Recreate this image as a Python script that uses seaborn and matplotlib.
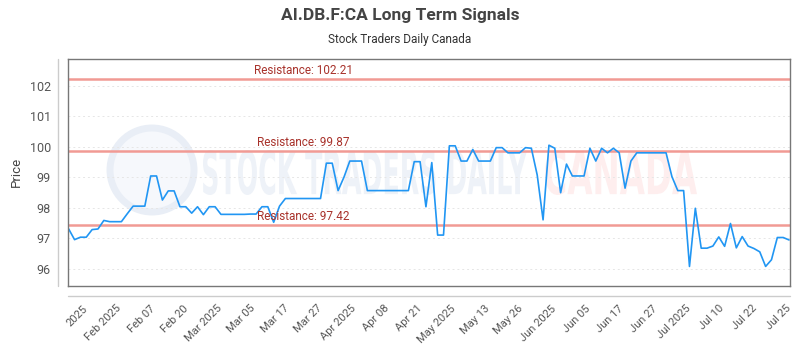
import matplotlib
matplotlib.use('Agg')
import numpy as np
import pandas as pd
import matplotlib.pyplot as plt
import seaborn as sns
from matplotlib.lines import Line2D
from matplotlib.patches import Ellipse, PathPatch
from matplotlib.textpath import TextPath
from matplotlib.font_manager import FontProperties
from matplotlib.transforms import Affine2D


TITLE = 'AI.DB.F:CA Long Term Signals'
SUBTITLE = 'Stock Traders Daily Canada'

# daily closes, one per trading session
prices = [
    97.30, 96.95, 97.03, 97.03, 97.28, 97.30, 97.58, 97.54, 97.54, 97.54,
    97.80, 98.05, 98.05, 98.05, 99.04, 99.04, 98.25, 98.55, 98.55, 98.03,
    98.03, 97.82, 98.03, 97.77, 98.03, 98.03, 97.78, 97.78, 97.78, 97.78,
    97.78, 97.79, 97.79, 98.03, 98.03, 97.52, 98.05, 98.30, 98.30, 98.30,
    98.30, 98.30, 98.30, 98.30, 99.46, 99.46, 98.56, 99.00, 99.53, 99.53,
    99.53, 98.56, 98.56, 98.56, 98.56, 98.56, 98.56, 98.56, 98.56, 99.51,
    99.51, 98.03, 99.48, 97.10, 97.10, 100.03, 100.03, 99.53, 99.53, 99.91,
    99.53, 99.53, 99.53, 99.97, 99.97, 99.80, 99.80, 99.80, 99.97, 99.95,
    99.07, 97.60, 100.05, 99.95, 98.49, 99.43, 99.04, 99.04, 99.04, 99.95,
    99.53, 99.95, 99.80, 99.95, 99.80, 98.64, 99.53, 99.80, 99.80, 99.80,
    99.80, 99.80, 99.80, 99.02, 98.56, 98.56, 96.07, 97.98, 96.67, 96.67,
    96.74, 97.04, 96.73, 97.48, 96.68, 97.05, 96.74, 96.66, 96.55, 96.07,
    96.29, 97.02, 97.02, 96.94,
]

tick_labels = ['2025', 'Feb 2025', 'Feb 07', 'Feb 20', 'Mar 2025', 'Mar 05',
               'Mar 17', 'Mar 27', 'Apr 2025', 'Apr 08', 'Apr 21', 'May 2025',
               'May 13', 'May 26', 'Jun 2025', 'Jun 05', 'Jun 17', 'Jun 27',
               'Jul 2025', 'Jul 10', 'Jul 22', 'Jul 25']

resistance = [102.21, 99.87, 97.42]


def watermark(fig, ax, text, box, color):
    # stretch a text outline into a box given in pixels (x0, y0, x1, y1), top-left origin
    tp = TextPath((0, 0), text, prop=FontProperties(family='DejaVu Sans', weight='bold'), size=10)
    ext = tp.get_extents()
    x0, y0, x1, y1 = box
    W, H = fig.get_size_inches() * fig.dpi
    tr = (Affine2D().translate(-ext.x0, -ext.y0)
          .scale((x1 - x0) / W / ext.width, (y1 - y0) / H / ext.height)
          .translate(x0 / W, 1 - y1 / H))
    ax.add_patch(PathPatch(tp, transform=tr + fig.transFigure, facecolor=color,
                           edgecolor='none', zorder=0.5))


def main():
    sns.set_style('white')
    plt.rcParams['font.family'] = ['Roboto', 'DejaVu Sans']

    df = pd.DataFrame({'session': np.arange(len(prices)), 'price': prices})

    fig = plt.figure(figsize=(8, 3.5), dpi=100)
    ax = fig.add_axes([0.0844, 0.183, 0.903, 0.648])

    # faint logo watermark
    W, H = 800, 350
    ax.add_patch(Ellipse((152 / W, 1 - 170 / H), 84 / W, 84 / H, transform=fig.transFigure,
                         facecolor='#f6f8fc', edgecolor='#e9eef6', lw=5, zorder=0.4))
    watermark(fig, ax, 'STOCK TRADERS DAILY', (203, 150, 527, 195), '#eef2f8')
    watermark(fig, ax, 'CANADA', (545, 150, 697, 195), '#feeeee')

    for y in range(96, 103):
        ax.axhline(y, color='#e6e6e6', lw=0.7, ls=(0, (2, 3)), zorder=0.6)

    for r in resistance:
        ax.axhline(r, color='#f19a94', lw=1.8, zorder=1)
        ax.annotate(f'Resistance: {r:.2f}', xy=(0.326, r), xycoords=('axes fraction', 'data'),
                    xytext=(0, 1.5), textcoords='offset points', ha='center', va='bottom',
                    fontsize=8.5, color='#a8322b', zorder=3)

    sns.lineplot(data=df, x='session', y='price', color='#2196f3', lw=1.2, ax=ax, zorder=2)

    ax.set_xlim(-0.2, len(prices) - 0.85)
    ax.set_ylim(95.43, 102.875)
    ax.set_yticks(range(96, 103))
    ax.set_xticks(np.linspace(3, len(prices) - 1, len(tick_labels)))
    ax.set_xticklabels(tick_labels, rotation=45, ha='right', rotation_mode='anchor', va='center')
    ax.tick_params(axis='y', length=0, pad=12, labelsize=9, labelcolor='#555555')
    ax.tick_params(axis='x', length=0, pad=15, labelsize=8, labelcolor='#555555')
    ax.set_xlabel('')
    ax.set_ylabel('')

    for s in ax.spines.values():
        s.set_color('#777777')
        s.set_linewidth(1)

    # outer axis lines
    ax.add_line(Line2D([-0.0136, -0.0136], [0, 1], transform=ax.transAxes, color='#cccccc',
                       lw=1, clip_on=False))
    ax.add_line(Line2D([0, 1], [-0.044, -0.044], transform=ax.transAxes, color='#cccccc',
                       lw=1, clip_on=False))

    fig.text(0.5, 0.957, TITLE, ha='center', va='center', fontsize=12.5,
             fontweight='bold', color='#444444')
    fig.text(0.5, 0.886, SUBTITLE, ha='center', va='center', fontsize=8.5, color='#333333')
    fig.text(0.02, 0.51, 'Price', rotation=90, ha='center', va='center', fontsize=9.5,
             color='#444444')

    fig.savefig('out.png', dpi=100)


if __name__ == '__main__':
    main()
